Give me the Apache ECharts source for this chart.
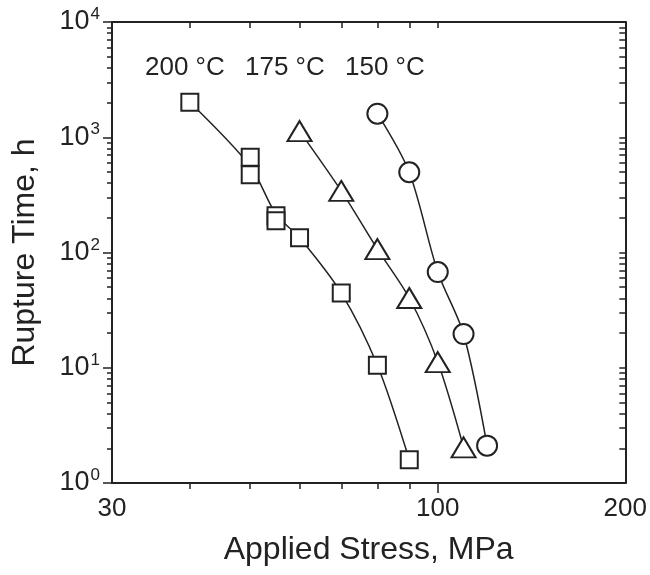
<!DOCTYPE html>
<html>
<head>
<meta charset="utf-8">
<script src="https://cdn.jsdelivr.net/npm/echarts@6/dist/echarts.min.js"></script>
<style>
html,body{margin:0;padding:0;background:#fff;}
#chart{width:650px;height:575px;}
</style>
</head>
<body>
<div id="chart"></div>
<script>
// ---- data ----
const xTickLabels = [30, 100, 200];
const xMinorTicks = [40, 50, 60, 70, 80, 90];
const xMajorTicks = [100];
const yDecades = [1, 10, 100, 1000, 10000];
const yMantissas = [2, 3, 4, 5, 6, 7, 8, 9];

const tempLabels = ['200 °C', '175 °C', '150 °C'];

// 200 °C (squares)
const stress200 = [40, 50, 50, 55, 55, 60, 70, 80, 90];
const time200 = [2010, 670, 473, 208, 189, 134, 44.5, 10.5, 1.59];
// 200 °C fitted curve
const fitStress200 = [40, 50, 55, 60, 70, 80, 90];
const fitTime200 = [2010, 560, 215, 134, 44.5, 10.5, 1.59];
// 175 °C (triangles)
const stress175 = [60, 70, 80, 90, 100, 110];
const time175 = [1130, 342, 107, 40.3, 11.2, 2.04];
// 150 °C (circles)
const stress150 = [80, 90, 100, 110, 120];
const time150 = [1600, 497, 67.7, 19.6, 2.11];

// ---- build ----
const FONT = '"Liberation Sans", Arial, Helvetica, sans-serif';
const INK = '#222';
const zip = (a, b) => a.map((v, i) => [v, b[i]]);
const yMinorTicks = [];
yDecades.slice(0, -1).forEach(d => yMantissas.forEach(m => yMinorTicks.push(m * d)));

const tickLine = {color: INK, width: 1.5};
const axisLineStyle = {show: true, lineStyle: {color: INK, width: 2}};

const baseX = {type: 'log', logBase: 10, min: 30, max: 200, splitLine: {show: false}, gridIndex: 0};
const baseY = {type: 'log', logBase: 10, min: 1, max: 10000, splitLine: {show: false}, gridIndex: 0};

const markerStyle = {color: '#fff', borderColor: INK, borderWidth: 2, opacity: 1};
const lineStyle = {color: INK, width: 1.5};

const option = {
  animation: false,
  backgroundColor: '#fff',
  grid: {left: 112, top: 22, right: 22, bottom: 92, containLabel: false},
  xAxis: [
    Object.assign({}, baseX, {
      position: 'bottom',
      axisLine: axisLineStyle,
      axisTick: {show: true, inside: false, length: 10, lineStyle: tickLine, customValues: xMajorTicks},
      axisLabel: {show: true, customValues: xTickLabels, margin: 13, fontSize: 26, color: INK, fontFamily: FONT},
      name: 'Applied Stress, MPa', nameLocation: 'middle', nameGap: 51,
      nameTextStyle: {fontSize: 32, color: INK, fontFamily: FONT}
    }),
    Object.assign({}, baseX, {
      position: 'bottom',
      axisLine: {show: false},
      axisTick: {show: true, inside: false, length: 6, lineStyle: tickLine, customValues: xMinorTicks},
      axisLabel: {show: false}
    }),
    Object.assign({}, baseX, {
      position: 'top',
      axisLine: axisLineStyle,
      axisTick: {show: true, inside: true, length: 6, lineStyle: tickLine, customValues: xMinorTicks.concat(xMajorTicks)},
      axisLabel: {show: false}
    })
  ],
  yAxis: [
    Object.assign({}, baseY, {
      position: 'left',
      axisLine: axisLineStyle,
      axisTick: {show: true, inside: false, length: 9, lineStyle: tickLine, customValues: yDecades},
      axisLabel: {
        show: true, customValues: yDecades, margin: 12, color: INK, fontFamily: FONT,
        formatter: v => '{b|10}{s|' + Math.round(Math.log10(v)) + '}',
        rich: {
          b: {fontSize: 27, color: INK, fontFamily: FONT, lineHeight: 32},
          s: {fontSize: 17, color: INK, fontFamily: FONT, verticalAlign: 'top', padding: [0, 0, 0, 1]}
        }
      },
      name: 'Rupture Time, h', nameLocation: 'middle', nameGap: 71,
      nameTextStyle: {fontSize: 32, color: INK, fontFamily: FONT}
    }),
    Object.assign({}, baseY, {
      position: 'left',
      axisLine: {show: false},
      axisTick: {show: true, inside: false, length: 5, lineStyle: tickLine, customValues: yMinorTicks},
      axisLabel: {show: false}
    }),
    Object.assign({}, baseY, {
      position: 'right',
      axisLine: axisLineStyle,
      axisTick: {show: true, inside: true, length: 6, lineStyle: tickLine, customValues: yMinorTicks.concat(yDecades)},
      axisLabel: {show: false}
    })
  ],
  graphic: [
    {type: 'text', left: 145, top: 55, style: {text: tempLabels[0], font: '26px ' + FONT, fill: INK}},
    {type: 'text', left: 245, top: 55, style: {text: tempLabels[1], font: '26px ' + FONT, fill: INK}},
    {type: 'text', left: 345, top: 55, style: {text: tempLabels[2], font: '26px ' + FONT, fill: INK}}
  ],
  series: [
    {type: 'line', name: '200 fit', xAxisIndex: 0, yAxisIndex: 0, data: zip(fitStress200, fitTime200),
     showSymbol: false, smooth: 0.3, lineStyle: lineStyle, z: 2},
    {type: 'scatter', name: '200 °C', xAxisIndex: 0, yAxisIndex: 0, data: zip(stress200, time200),
     symbol: 'rect', symbolSize: 17, itemStyle: markerStyle, z: 3},
    {type: 'line', name: '175 fit', xAxisIndex: 0, yAxisIndex: 0, data: zip(stress175, time175),
     showSymbol: false, smooth: 0.3, lineStyle: lineStyle, z: 2},
    {type: 'scatter', name: '175 °C', xAxisIndex: 0, yAxisIndex: 0, data: zip(stress175, time175),
     symbol: 'triangle', symbolSize: [24, 20], itemStyle: markerStyle, z: 3},
    {type: 'line', name: '150 fit', xAxisIndex: 0, yAxisIndex: 0, data: zip(stress150, time150),
     showSymbol: false, smooth: 0.3, lineStyle: lineStyle, z: 2},
    {type: 'scatter', name: '150 °C', xAxisIndex: 0, yAxisIndex: 0, data: zip(stress150, time150),
     symbol: 'circle', symbolSize: 20, itemStyle: markerStyle, z: 3}
  ]
};

const chart = echarts.init(document.getElementById('chart'), null, {renderer: 'canvas'});
chart.setOption(option);
</script>
</body>
</html>
